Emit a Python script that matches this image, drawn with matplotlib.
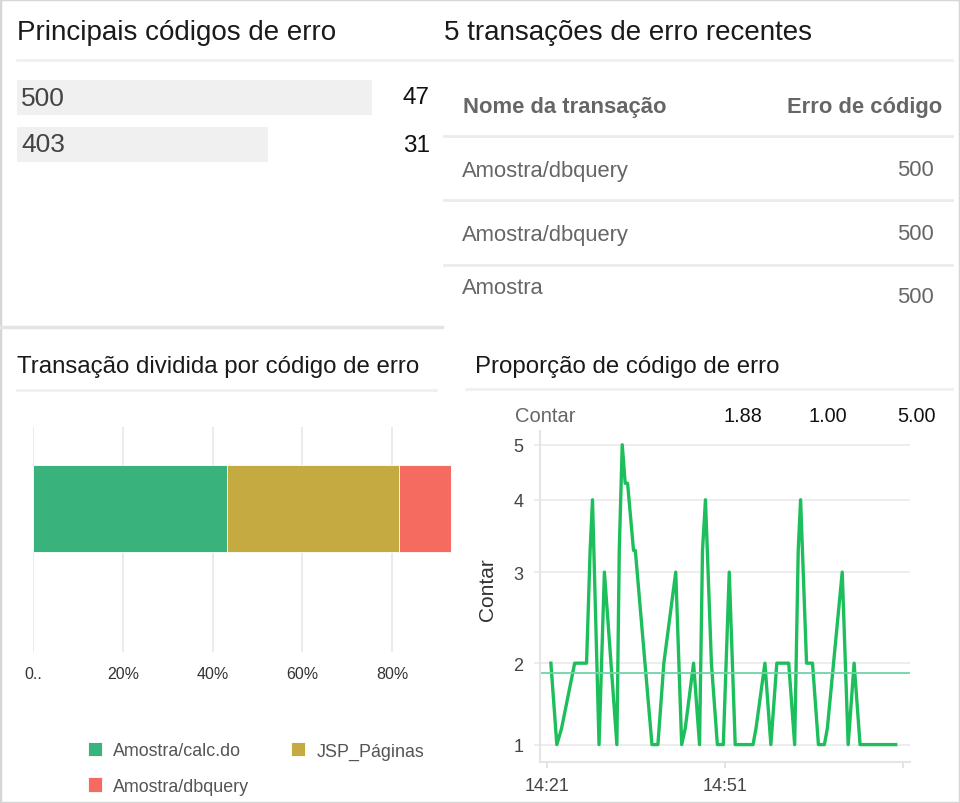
import numpy as np
import matplotlib
matplotlib.use("Agg")
import matplotlib.pyplot as plt
from matplotlib.lines import Line2D
from matplotlib.patches import Rectangle

plt.rcParams['font.family'] = ['Liberation Sans', 'DejaVu Sans']

W, H = 960, 804

# dados
error_codes = ['500', '403']
error_counts = [47, 31]

table_header = ['Nome da transação', 'Erro de código']
recent_names = ['Amostra/dbquery', 'Amostra/dbquery', 'Amostra']
recent_codes = ['500', '500', '500']

split_labels = ['Amostra/calc.do', 'JSP_Páginas', 'Amostra/dbquery']
split_share = [43.2, 38.3, 18.5]
split_ticks = [0, 20, 40, 60, 80]
split_tick_labels = ['0..', '20%', '40%', '60%', '80%']

# minutos depois das 14:00
minutes = [21.7, 22.7, 23.5, 25.7, 27.7, 28.3, 28.7, 29.8, 30.7, 32.8,
           33.2, 33.7, 34.2, 34.6, 35.6, 35.9, 38.7, 39.7, 40.7, 42.7,
           43.7, 44.3, 45.7, 46.7, 47.2, 47.7, 48.7, 49.7, 50.7, 51.7,
           52.7, 55.7, 56.2, 57.7, 58.7, 59.7, 61.7, 62.7, 63.3, 63.7,
           64.7, 65.7, 66.7, 67.7, 68.2, 70.7, 71.7, 72.7, 73.7, 79.7]
counts = [2, 1, 1.2, 2, 2, 3.3, 4, 1, 3, 1,
          3.3, 5, 4.3, 4.3, 3.3, 3.3, 1, 1, 2, 3,
          1, 1.2, 2, 1, 3.3, 4, 2, 1, 1, 3,
          1, 1, 1.2, 2, 1, 2, 2, 1, 3.3, 4,
          2, 2, 1, 1, 1.2, 3, 1, 2, 1, 1]
summary_label = 'Contar'
summary_values = [1.88, 1.00, 5.00]
time_ticks = [21, 51, 81]
time_tick_labels = ['14:21', '14:51', '']
count_ticks = [1, 2, 3, 4, 5]


def fx(x):
    return x / W


def fy(y):
    return 1 - y / H


def box(x0, y0, x1, y1):
    return [x0 / W, 1 - y1 / H, (x1 - x0) / W, (y1 - y0) / H]


def hline(fig, x0, x1, y, color='#ececec', lw=1.5):
    fig.add_artist(Line2D([fx(x0), fx(x1)], [fy(y), fy(y)], color=color, lw=lw,
                          transform=fig.transFigure))


fig = plt.figure(figsize=(W / 100, H / 100), dpi=100)
fig.patches.append(Rectangle((0, 0), 1, 1, transform=fig.transFigure, fill=False,
                             ec='#d6d6d6', lw=2.5))

# divisórias
hline(fig, 17, 442, 61, '#f0f0f0', 2)
hline(fig, 444, 952, 61, '#f0f0f0', 2)
hline(fig, 0, 442, 328, '#e4e4e4', 2.5)
hline(fig, 17, 436, 391, '#f0f0f0', 2)
hline(fig, 466, 952, 390, '#f0f0f0', 2)
for yy in [137, 201, 266]:
    hline(fig, 444, 952, yy, '#ebebeb', 2)

# títulos
title_kw = dict(va='center', ha='left', color='#1a1a1a')
fig.text(fx(17), fy(33), 'Principais códigos de erro', fontsize=20, **title_kw)
fig.text(fx(444), fy(33), '5 transações de erro recentes', fontsize=20, **title_kw)
fig.text(fx(17), fy(367), 'Transação dividida por código de erro', fontsize=17.3, **title_kw)
fig.text(fx(475), fy(367), 'Proporção de código de erro', fontsize=17.3, **title_kw)

# 1) principais códigos de erro
bar_base = 7.6
ax1 = fig.add_axes(box(17, 75, 372, 169))
ax1.barh(range(len(error_codes)), [c + bar_base for c in error_counts], left=-bar_base,
         height=0.745, color='#f0f0f0')
ax1.set_xlim(-bar_base, max(error_counts))
ax1.set_ylim(len(error_codes) - 0.5, -0.5)
ax1.axis('off')
for i, (code, c) in enumerate(zip(error_codes, error_counts)):
    ax1.text(0.011, i, code, transform=ax1.get_yaxis_transform(), va='center', ha='left',
             fontsize=19, color='#444')
    ax1.text(1.163, i, str(c), transform=ax1.get_yaxis_transform(), va='center', ha='right',
             fontsize=17.5, color='#111')

# 2) tabela de transações recentes
fig.text(fx(463), fy(107), table_header[0], fontsize=15.8, fontweight='bold', color='#666',
         va='center', ha='left')
fig.text(fx(942), fy(107), table_header[1], fontsize=15.8, fontweight='bold', color='#666',
         va='center', ha='right')
name_y = [171, 235, 289]
code_y = [170, 234, 298]
for name, code, ny, cy in zip(recent_names, recent_codes, name_y, code_y):
    fig.text(fx(462), fy(ny), name, fontsize=15.8, color='#666', va='center', ha='left')
    fig.text(fx(934), fy(cy), code, fontsize=15.8, color='#666', va='center', ha='right')

# 3) transação dividida por código de erro
split_colors = ['#3ab27b', '#c4aa41', '#f56b60']
ax2 = fig.add_axes(box(33.3, 428, 451, 653))
bars = []
left = 0
for lab, share, col in zip(split_labels, split_share, split_colors):
    bars.append(ax2.barh(0, share, left=left, height=0.6, color=col, label=lab,
                         edgecolor='#ffffff', linewidth=0.6))
    left += share
ax2.set_xlim(0, 93.17)
ax2.set_ylim(-0.983, 0.558)
ax2.set_xticks(split_ticks, split_tick_labels)
ax2.set_yticks([])
ax2.grid(axis='x', color='#e8e8e8', lw=1.2)
ax2.set_axisbelow(True)
for s in ax2.spines.values():
    s.set_visible(False)
ax2.tick_params(axis='x', length=0, pad=10, labelsize=11.5, labelcolor='#333')

fig.legend(handles=[bars[0], bars[2], bars[1]],
           labels=[split_labels[0], split_labels[2], split_labels[1]],
           ncol=2, loc='upper left', bbox_to_anchor=(fx(88), fy(743)), frameon=False,
           fontsize=12.9, handlelength=0.8, handleheight=0.85, handletextpad=0.62,
           columnspacing=2.3, labelcolor='#555', borderaxespad=0, borderpad=0,
           labelspacing=1.0)

# 4) proporção de código de erro
tick_pos = [-11 * 81.4, 0, 81.4, 172.4, 244.7, 299.7, 299.7 + 15 * 55]
tick_val = [-10, 1, 2, 3, 4, 5, 20]


def fwd(v):
    return np.interp(v, tick_val, tick_pos)


def inv(p):
    return np.interp(p, tick_pos, tick_val)


ax3 = fig.add_axes(box(540, 432, 910, 762.7))
ax3.set_yscale('function', functions=(fwd, inv))
ax3.plot(minutes, counts, color='#1dbf5c', lw=2.4)
ax3.axhline(summary_values[0], color='#6fd4a8', lw=1.3)
ax3.set_xlim(19.87, 82.1)
ax3.set_ylim(0.79, 5.25)
ax3.set_yticks(count_ticks, [str(t) for t in count_ticks])
ax3.yaxis.set_minor_locator(matplotlib.ticker.NullLocator())
ax3.set_xticks(time_ticks, time_tick_labels)
ax3.grid(axis='y', color='#ececec', lw=1.3)
ax3.set_axisbelow(True)
for s in ['top', 'right']:
    ax3.spines[s].set_visible(False)
for s in ['left', 'bottom']:
    ax3.spines[s].set_color('#e5e5e5')
    ax3.spines[s].set_linewidth(1.5)
ax3.tick_params(axis='y', length=4, color='#ececec', width=1.3, pad=8,
                labelsize=13, labelcolor='#444')
ax3.tick_params(axis='x', length=4, color='#e0e0e0', width=1.3, pad=7,
                labelsize=13, labelcolor='#444')
ax3.set_ylabel('Contar', fontsize=15, color='#333')
ax3.yaxis.set_label_coords((497 - 540) / 370, (762.7 - 590) / 330.7)

fig.text(fx(515), fy(417), summary_label, fontsize=14.5, color='#666', va='center', ha='left')
for v, xc in zip(summary_values, [743, 828, 917]):
    fig.text(fx(xc), fy(417), f'{v:.2f}', fontsize=14.3, color='#111', va='center', ha='center')

fig.savefig('out.png', dpi=100)
